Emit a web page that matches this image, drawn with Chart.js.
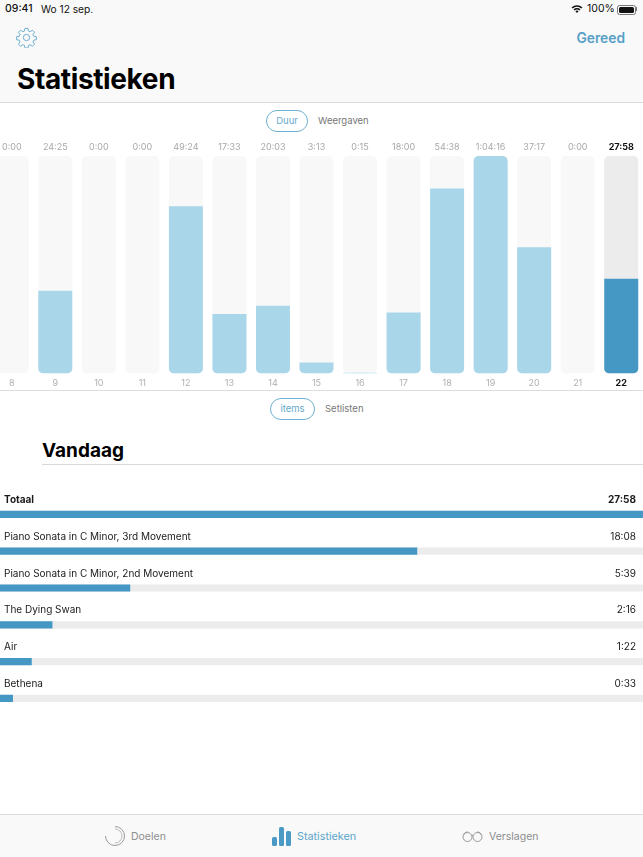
<!DOCTYPE html>
<html lang="nl"><head><meta charset="utf-8">
<script src="https://cdn.jsdelivr.net/npm/chart.js@4"></script>
<style>
html,body{margin:0;padding:0;background:#fff;width:643px;height:857px;overflow:hidden;font-family:Inter,Roboto,sans-serif;color:#111}
.abs{position:absolute;white-space:nowrap}
#head{position:absolute;left:0;top:0;width:643px;height:102px;background:#f9f9f9;border-bottom:1px solid #d9d9d9}
#tabbar{position:absolute;left:0;top:814px;width:643px;height:43px;background:#f9f9f9;border-top:1px solid #dcdcdc}
.pill{position:absolute;border:1px solid #6fb1d2;border-radius:12px;height:20px;line-height:20px;text-align:center;color:#66a9cc;font-size:9.5px}
.seg{color:#777;font-size:9.5px}
.tab{font-size:10.5px;color:#8e8e8e}
#c1wrap{position:absolute;left:-10.3px;top:138px;width:653px;height:252px}
#c2wrap{position:absolute;left:0;top:475.6px;width:643px;height:240.8px}
</style></head><body>
<div id="head"></div>
<div class="abs" style="left:5px;top:2px;font-size:10.5px;line-height:14px;font-weight:500">09:41</div>
<div class="abs" style="left:41px;top:2px;font-size:10.2px;line-height:14px">Wo 12 sep.</div>
<svg class="abs" style="left:571px;top:4px" width="12" height="10" viewBox="0 0 12 10"><path d="M0.5 3.4a8 8 0 0 1 11 0l-1.1 1.2a6.4 6.4 0 0 0-8.8 0zM2.5 5.4a5 5 0 0 1 7 0L8.4 6.6a3.5 3.5 0 0 0-4.8 0zM4.4 7.3a2.2 2.2 0 0 1 3.2 0L6 9z" fill="#111"/></svg>
<div class="abs" style="left:587px;top:2px;font-size:10.5px;line-height:14px">100%</div>
<div class="abs" style="left:617px;top:4.5px;width:17px;height:8px;border:0.8px solid #777;border-radius:2.5px;padding:0"><div style="position:absolute;left:1px;top:1px;right:1px;bottom:1px;background:#111;border-radius:1.5px"></div></div>
<div class="abs" style="left:636px;top:7px;width:1.2px;height:3.5px;background:#777"></div>
<svg class="abs" style="left:16px;top:27px" width="21" height="21" viewBox="0 0 24 24" fill="none" stroke="#5ba5cb" stroke-width="1"><circle cx="12" cy="12" r="3.6"/><path d="M10.3 1.5h3.4l.6 3.1 1.9.8 2.6-1.8 2.4 2.4-1.8 2.6.8 1.9 3.1.6v3.4l-3.1.6-.8 1.9 1.8 2.6-2.4 2.4-2.6-1.8-1.9.8-.6 3.1h-3.4l-.6-3.1-1.9-.8-2.6 1.8-2.4-2.4 1.8-2.6-.8-1.9-3.1-.6v-3.4l3.1-.6.8-1.9-1.8-2.6 2.4-2.4 2.6 1.8 1.9-.8z"/></svg>
<div class="abs" style="right:18px;top:28px;font-size:13.8px;line-height:20px;font-weight:600;color:#56a0c8">Gereed</div>
<div class="abs" style="left:17px;top:62px;font-size:28px;line-height:34px;font-weight:700;color:#000;letter-spacing:-0.38px">Statistieken</div>

<div class="pill" style="left:266px;top:110px;width:40px">Duur</div>
<div class="abs seg" style="left:318px;top:115px;line-height:12px">Weergaven</div>
<div id="c1wrap"><canvas id="c1"></canvas></div>
<div class="abs" style="left:0;top:390px;width:643px;height:1px;background:#ddd"></div>
<div class="pill" style="left:270px;top:398px;width:43px">items</div>
<div class="abs seg" style="left:325px;top:403px;line-height:12px">Setlisten</div>
<div class="abs" style="left:42px;top:438px;font-size:19px;line-height:26px;font-weight:700;color:#000">Vandaag</div>
<div class="abs" style="left:42px;top:464px;width:601px;height:1px;background:#d9d9d9"></div>
<div id="c2wrap"><canvas id="c2"></canvas></div>
<div id="tabbar"></div>
<svg class="abs" style="left:104px;top:825px" width="22" height="22" viewBox="0 0 22 22" fill="none" stroke="#9a9a9a" stroke-width="1"><path d="M11 1.5a9.5 9.5 0 1 1-9.5 9.5"/><path d="M11 4a7 7 0 0 1 0 14" stroke="#bbb"/></svg>
<div class="abs tab" style="left:131px;top:830px;line-height:13px">Doelen</div>
<svg class="abs" style="left:272px;top:827px" width="19" height="19" viewBox="0 0 19 19" fill="#4a9ac5"><rect x="0" y="10" width="5" height="9" rx="1.5"/><rect x="7" y="0" width="5" height="19" rx="1.5"/><rect x="14" y="4" width="5" height="15" rx="1.5"/></svg>
<div class="abs tab" style="left:297px;top:830px;line-height:13px;color:#5ba5cb;font-size:10.8px">Statistieken</div>
<svg class="abs" style="left:462px;top:831px" width="21" height="11" viewBox="0 0 21 11" fill="none" stroke="#8e8e8e" stroke-width="0.9"><circle cx="5.5" cy="6" r="4.5"/><circle cx="15.5" cy="6" r="4.5"/><path d="M1.5 4C2.5 1.5 4 1 6 1M10 5c-.2-.8 1-.8 1 0M19.5 4C18.5 1.5 17 1 15 1"/></svg>
<div class="abs tab" style="left:489px;top:830px;line-height:13px">Verslagen</div>

<script>
const days = ['8','9','10','11','12','13','14','15','16','17','18','19','20','21','22'];
const durationLabels = ['0:00','24:25','0:00','0:00','49:24','17:33','20:03','3:13','0:15','18:00','54:38','1:04:16','37:17','0:00','27:58'];
const daySeconds = [0,1465,0,0,2964,1053,1203,193,15,1080,3278,3856,2237,0,1678];
const trackSeconds = [3856,3856,3856,3856,3856,3856,3856,3856,3856,3856,3856,3856,3856,3856,3856];
const itemNames = ['Totaal','Piano Sonata in C Minor, 3rd Movement','Piano Sonata in C Minor, 2nd Movement','The Dying Swan','Air','Bethena'];
const itemDurations = ['27:58','18:08','5:39','2:16','1:22','0:33'];
const itemSeconds = [1678,1088,339,136,82,33];
const itemTrack = [1678,1678,1678,1678,1678,1678];
const lastIdx = days.length - 1;
const maxV = Math.max(...daySeconds);
const FONT = 'Inter, Roboto, sans-serif';

new Chart(document.getElementById('c1'),{
  type:'bar',
  data:{labels:days,datasets:[
    {data:daySeconds,order:0,grouped:false,
     backgroundColor:c=>c.dataIndex===lastIdx?'#4698c4':'#a9d6e9',
     barPercentage:1,categoryPercentage:34/43.53,borderSkipped:false,
     borderRadius:c=>{const r=c.raw===maxV?5:0;return {topLeft:r,topRight:r,bottomLeft:5,bottomRight:5}}},
    {data:trackSeconds,order:1,grouped:false,
     backgroundColor:c=>c.dataIndex===lastIdx?'#ececec':'#f8f8f8',
     barPercentage:1,categoryPercentage:34/43.53,borderSkipped:false,borderRadius:5}
  ]},
  options:{responsive:true,maintainAspectRatio:false,animation:false,
    layout:{padding:0},
    plugins:{legend:{display:false},tooltip:{enabled:false}},
    scales:{
      x:{stacked:false,position:'bottom',offset:true,grid:{display:false,drawTicks:false},border:{display:false},
         afterFit(a){a.height=16.5},
         ticks:{padding:4,maxRotation:0,autoSkip:false,font:c=>({family:FONT,size:9,weight:c.index===lastIdx?'700':'400'}),color:c=>c.index===lastIdx?'#111':'#b0b0b0'}},
      top:{type:'category',labels:durationLabels,position:'top',offset:true,grid:{display:false,drawTicks:false},border:{display:false},
         afterFit(a){a.height=18},
         ticks:{padding:3,maxRotation:0,autoSkip:false,font:c=>({family:FONT,size:9,weight:c.index===lastIdx?'700':'400'}),color:c=>c.index===lastIdx?'#111':'#a8a8a8'}},
      y:{display:false,min:0,max:maxV}
    }}
});

function flushAxis(a){a.width=0;a.paddingTop=0;a.paddingBottom=0;a.paddingLeft=0;a.paddingRight=0}
new Chart(document.getElementById('c2'),{
  type:'bar',
  data:{labels:itemNames,datasets:[
    {data:itemSeconds,order:0,grouped:false,backgroundColor:'#4698c4',barThickness:6.5,borderRadius:0},
    {data:itemTrack,order:1,grouped:false,backgroundColor:'#ececec',barThickness:6.5,borderRadius:0}
  ]},
  options:{indexAxis:'y',responsive:true,maintainAspectRatio:false,animation:false,
    layout:{padding:{top:20,left:0,right:0,bottom:0},autoPadding:false},
    plugins:{legend:{display:false},tooltip:{enabled:false}},
    scales:{
      x:{display:false,min:0,max:1678},
      y:{position:'left',offset:true,grid:{display:false,drawTicks:false},border:{display:false},
         afterFit:flushAxis,
         ticks:{mirror:true,padding:4,labelOffset:-14.5,autoSkip:false,font:c=>({family:FONT,size:10,weight:c.index===0?'700':'400'}),color:'#1a1a1a'}},
      right:{type:'category',labels:itemDurations,position:'right',offset:true,grid:{display:false,drawTicks:false},border:{display:false},
         afterFit:flushAxis,
         ticks:{mirror:true,padding:-7,labelOffset:-14.5,autoSkip:false,font:c=>({family:FONT,size:10,weight:c.index===0?'700':'400'}),color:'#1a1a1a'}}
    }}
});
</script>
</body></html>
